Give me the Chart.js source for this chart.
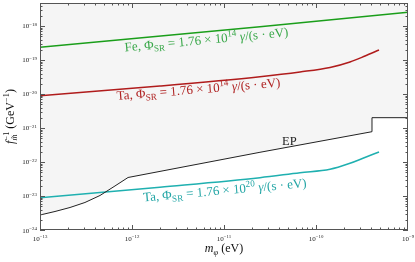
<!DOCTYPE html>
<html><head><meta charset="utf-8">
<script src="https://cdn.jsdelivr.net/npm/chart.js@4/dist/chart.umd.min.js"></script>
<style>html,body{margin:0;padding:0;background:#fff}#wrap{width:415px;height:262px}</style>
</head><body><div id="wrap"><canvas id="c" width="415" height="262"></canvas></div>
<script>
// ---- data (mass in eV, coupling in GeV^-1) ----
const epMass = [1e-13, 1.456e-13, 2.12e-13, 3.08e-13, 4.49e-13, 6.53e-13, 9.06e-13, 2.46e-11, 4.06e-10, 4.06e-10, 1e-9];
const epF    = [2.76e-24, 3.50e-24, 4.59e-24, 6.44e-24, 1.035e-23, 1.97e-23, 3.50e-23, 1.93e-22, 7.78e-22, 2.01e-21, 2.01e-21];
const feMass = [1e-13, 2.46e-11, 1e-9];
const feF    = [2.37e-19, 9.53e-19, 2.53e-18];
const ta14Mass = [1e-13, 2.01e-12, 2.46e-11, 6.70e-11, 1.42e-10, 2.34e-10, 3.41e-10, 4.84e-10];
const ta14F    = [8.91e-21, 1.72e-20, 3.23e-20, 4.44e-20, 6.01e-20, 8.73e-20, 1.31e-19, 1.97e-19];
const ta20Mass = [1e-13, 2.01e-12, 2.46e-11, 6.70e-11, 1.42e-10, 2.34e-10, 3.24e-10, 4.84e-10];
const ta20F    = [8.91e-24, 1.82e-23, 3.45e-23, 4.84e-23, 6.10e-23, 9.16e-23, 1.29e-22, 1.97e-22];
const xTickVals = [1e-13, 1e-12, 1e-11, 1e-10, 1e-9];
const xTickLabels = ['10^{−13}', '10^{−12}', '10^{−11}', '10^{−10}', '10^{−9}'];
const yTickVals = [1e-24, 1e-23, 1e-22, 1e-21, 1e-20, 1e-19, 1e-18];
const yTickLabels = ['10^{−24}', '10^{−23}', '10^{−22}', '10^{−21}', '10^{−20}', '10^{−19}', '10^{−18}'];
const seriesLabels = ['Fe, Φ_{SR} = 1.76 × 10^{14} |γ|/(s · eV)', 'Ta, Φ_{SR} = 1.76 × 10^{14} |γ|/(s · eV)', 'Ta, Φ_{SR} = 1.76 × 10^{20} |γ|/(s · eV)', 'EP'];
const xTitle = '|m|_{|φ|} (eV)';
const yTitle = '|f|_{|m̃|}^{−1} (GeV^{−1})';

const pts = (xs, ys) => xs.map((x, i) => ({x, y: ys[i]}));

// ---- rich text helpers ----
const FAM = "'Liberation Serif','DejaVu Serif',serif";
function parseRich(str){
  const segs=[]; let i=0,it=false,mode='n',buf='';
  const push=()=>{ if(buf){segs.push({t:buf,mode,it}); buf='';} };
  while(i<str.length){
    const c=str[i];
    if((c==='_'||c==='^')&&str[i+1]==='{'){push();mode=c==='_'?'sub':'sup';i+=2;continue;}
    if(c==='}'&&mode!=='n'){push();mode='n';i++;continue;}
    if(c==='|'){push();it=!it;i++;continue;}
    buf+=c;i++;
  }
  push(); return segs;
}
function layoutRich(ctx, segs, size){
  let x=0, prev=null; const out=[];
  for(const s of segs){
    const sz = s.mode==='n'? size : size*0.7;
    const font = (s.it?'italic ':'')+sz+'px '+FAM;
    ctx.font=font;
    const w=ctx.measureText(s.t).width;
    let sx=x;
    if(s.mode==='sup' && prev && prev.mode==='sub'){ sx=prev.x; }
    const dy = s.mode==='sub'? size*0.22 : s.mode==='sup'? -size*0.42 : 0;
    const item={t:s.t,font,x:sx,dy,w,mode:s.mode};
    out.push(item);
    x = Math.max(x, sx+w);
    prev=item;
  }
  return {items:out,width:x};
}
function drawRich(ctx, str, x, y, size, color, align, angle){
  const segs=parseRich(str);
  const L=layoutRich(ctx,segs,size);
  ctx.save();
  ctx.translate(x,y);
  if(angle) ctx.rotate(angle);
  let off = align==='center'? -L.width/2 : align==='right'? -L.width : 0;
  ctx.fillStyle=color; ctx.textBaseline='alphabetic'; ctx.textAlign='left';
  for(const it of L.items){ ctx.font=it.font; ctx.fillText(it.t, off+it.x, it.dy); }
  ctx.restore();
}

// ---- annotation placement (data coordinates) ----
const labelCfg = [
  {ds:1, x:8.39e-13, y:1.78e-19, color:'#3aa84a', size:13},
  {ds:2, x:6.87e-13, y:6.67e-21, color:'#b02424', size:13},
  {ds:3, x:1.33e-12, y:6.89e-24, color:'#24a6a6', size:13},
  {ds:-1, x:4.27e-11, y:3.16e-22, color:'#222', size:12.5}
];

const framePlugin = {
  id:'frame',
  afterDraw(chart){
    const {ctx, chartArea:a, scales:{x:xs, y:ys}} = chart;
    ctx.save();
    ctx.strokeStyle='#555'; ctx.lineWidth=1;
    ctx.strokeRect(a.left+0.5, a.top+0.5, a.right-a.left-1, a.bottom-a.top-1);
    ctx.beginPath();
    for(let e=-13;e<-9;e++){
      for(let k=1;k<10;k++){
        const v=k*Math.pow(10,e); const px=Math.round(xs.getPixelForValue(v))+0.5;
        const len = k===1?5:2.5;
        ctx.moveTo(px,a.bottom); ctx.lineTo(px,a.bottom-len);
        ctx.moveTo(px,a.top); ctx.lineTo(px,a.top+len);
      }
    }
    for(let e=-24;e<-17;e++){
      for(let k=1;k<10;k++){
        const v=k*Math.pow(10,e); if(v>ys.max) continue;
        const py=Math.round(ys.getPixelForValue(v))+0.5;
        const len = k===1?5:2.5;
        ctx.moveTo(a.left,py); ctx.lineTo(a.left+len,py);
        ctx.moveTo(a.right,py); ctx.lineTo(a.right-len,py);
      }
    }
    ctx.stroke();
    // tick labels
    xTickVals.forEach((v,i)=>{
      drawRich(ctx, xTickLabels[i], xs.getPixelForValue(v), a.bottom+11, 7, '#222', 'center', 0);
    });
    yTickVals.forEach((v,i)=>{
      drawRich(ctx, yTickLabels[i], a.left-3, ys.getPixelForValue(v)+2.5, 7, '#222', 'right', 0);
    });
    // axis titles
    drawRich(ctx, xTitle, (a.left+a.right)/2+0, a.bottom+22, 12, '#111', 'center', 0);
    drawRich(ctx, yTitle, 14, (a.top+a.bottom)/2, 12, '#111', 'center', -Math.PI/2);
    // curve labels
    labelCfg.forEach((c,i)=>{
      let ang=0;
      if(c.ds>=0){
        const m=chart.getDatasetMeta(c.ds).data;
        ang=Math.atan2(m[1].y-m[0].y, m[1].x-m[0].x);
      }
      drawRich(ctx, seriesLabels[i], xs.getPixelForValue(c.x), ys.getPixelForValue(c.y), c.size, c.color, 'left', ang);
    });
    ctx.restore();
  }
};

new Chart(document.getElementById('c'), {
  type:'line',
  data:{datasets:[
    {data:pts(epMass,epF), borderColor:'#222', borderWidth:1, fill:'end', backgroundColor:'#f5f5f5', tension:0},
    {data:pts(feMass,feF), borderColor:'#1a9e1a', borderWidth:1.5, fill:false},
    {data:pts(ta14Mass,ta14F), borderColor:'#b01c1c', borderWidth:1.5, fill:false, cubicInterpolationMode:'monotone'},
    {data:pts(ta20Mass,ta20F), borderColor:'#1fb0b0', borderWidth:1.5, fill:false, cubicInterpolationMode:'monotone'}
  ]},
  options:{
    responsive:false, animation:false, devicePixelRatio:1,
    layout:{padding:{left:40,right:7,top:3,bottom:32}},
    elements:{point:{radius:0}},
    plugins:{legend:{display:false}, tooltip:{enabled:false}, filler:{drawTime:'beforeDatasetsDraw'}},
    scales:{
      x:{type:'logarithmic', min:1e-13, max:1e-9, display:false},
      y:{type:'logarithmic', min:1e-24, max:4.74e-18, display:false}
    }
  },
  plugins:[framePlugin]
});
</script></body></html>
